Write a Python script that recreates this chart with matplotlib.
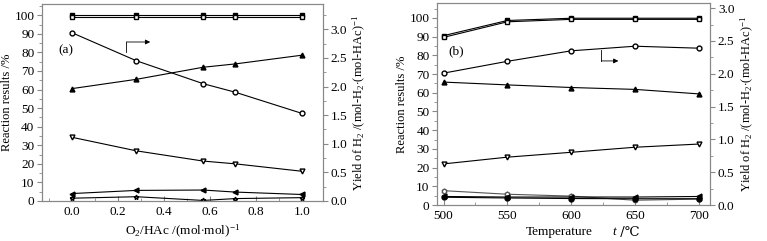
import matplotlib.pyplot as plt
from matplotlib.ticker import MultipleLocator

plt.rcParams['font.family'] = ['Liberation Serif', 'DejaVu Serif']
plt.rcParams['font.size'] = 9.5
plt.rcParams['mathtext.fontset'] = 'custom'
plt.rcParams['mathtext.rm'] = 'Liberation Serif'
plt.rcParams['mathtext.it'] = 'Liberation Serif:italic'

# (a) O2/HAc ratio
ratio = [0.0, 0.28, 0.57, 0.71, 1.0]
a_sq_fill = [100, 100, 100, 100, 100]
a_sq_open = [99.3, 99.3, 99.3, 99.3, 99.3]
a_h2_yield = [2.94, 2.45, 2.05, 1.90, 1.53]
a_tri_up = [60.5, 65.5, 72.0, 73.8, 78.5]
a_tri_down = [34.3, 27.0, 21.5, 20.0, 16.0]
a_tri_left = [4.0, 5.7, 5.9, 4.8, 3.5]
a_star = [1.5, 2.3, 0.3, 1.3, 1.8]

# (b) temperature
temp = [500, 550, 600, 650, 700]
b_sq_fill = [90.5, 98.6, 99.8, 99.8, 99.8]
b_sq_open = [89.6, 97.9, 99.2, 99.2, 99.2]
b_h2_yield = [2.01, 2.19, 2.35, 2.42, 2.39]
b_tri_up = [65.7, 64.2, 62.8, 61.8, 59.4]
b_tri_down = [22.0, 25.6, 28.2, 30.9, 32.6]
b_hex = [7.7, 5.8, 4.8, 2.6, 3.2]
b_tri_left = [4.6, 4.3, 4.3, 4.3, 4.6]
b_dot = [4.2, 3.8, 3.5, 3.4, 3.4]

fig = plt.figure(figsize=(7.67, 2.41), dpi=100)
ax1 = fig.add_axes([0.0548, 0.166, 0.366, 0.817])
ax2 = fig.add_axes([0.570, 0.149, 0.356, 0.839])

kw = dict(color='black', lw=0.8, ms=3.5)
gray = '#888888'


def style(ax, axr):
    for a in (ax, axr):
        for s in a.spines.values():
            s.set_color(gray)
            s.set_linewidth(0.8)
    ax.tick_params(axis='y', which='both', direction='out', color=gray, pad=2)
    ax.tick_params(axis='x', which='both', direction='in', color=gray)
    axr.tick_params(axis='y', which='both', direction='out', color=gray, pad=2)
    ax.tick_params(which='major', length=3.5)
    ax.tick_params(which='minor', length=2)
    axr.tick_params(which='major', length=3.5)
    axr.tick_params(which='minor', length=2)
    ax.yaxis.set_major_locator(MultipleLocator(10))
    ax.yaxis.set_minor_locator(MultipleLocator(5))
    axr.yaxis.set_major_locator(MultipleLocator(0.5))
    axr.yaxis.set_minor_locator(MultipleLocator(0.25))
    axr.yaxis.set_major_formatter(plt.FormatStrFormatter('%.1f'))
    ax.set_ylabel('Reaction results /%', labelpad=1, fontsize=9)
    axr.set_ylabel(r'Yield of H$_2$ /(mol-H$_2$$\cdot$(mol-HAc)$^{-1}$',
                   labelpad=3, fontsize=9)


# panel (a)
ax1r = ax1.twinx()
ax1.plot(ratio, a_sq_fill, marker='s', mfc='black', **kw)
ax1.plot(ratio, a_sq_open, marker='s', mfc='white', **kw)
ax1.plot(ratio, a_tri_up, marker='^', mfc='black', **kw)
ax1.plot(ratio, a_tri_down, marker='v', mfc='white', **kw)
ax1.plot(ratio, a_tri_left, marker='<', mfc='black', **kw)
ax1.plot(ratio, a_star, marker='*', mfc='white', **kw)
ax1r.plot(ratio, a_h2_yield, marker='o', mfc='white', **kw)
ax1.set_xlim(-0.13, 1.09)
ax1.set_ylim(0, 106)
ax1r.set_ylim(0, 3.44)
ax1.xaxis.set_major_locator(MultipleLocator(0.2))
ax1.xaxis.set_minor_locator(MultipleLocator(0.1))
ax1.xaxis.set_major_formatter(plt.FormatStrFormatter('%.1f'))
ax1.set_xlabel(r'O$_2$/HAc /(mol$\cdot$mol)$^{-1}$', labelpad=4)
style(ax1, ax1r)
ax1.text(-0.06, 81, '(a)', ha='left', va='center')
ax1.annotate('', xy=(0.34, 85.6), xytext=(0.236, 85.6),
             arrowprops=dict(arrowstyle='-|>', color='black', lw=0.6,
                             mutation_scale=7, shrinkA=0, shrinkB=0))
ax1.plot([0.236, 0.236], [80.3, 85.6], color='black', lw=0.6)

# panel (b)
ax2r = ax2.twinx()
ax2.plot(temp, b_sq_fill, marker='s', mfc='black', **kw)
ax2.plot(temp, b_sq_open, marker='s', mfc='white', **kw)
ax2.plot(temp, b_tri_up, marker='^', mfc='black', **kw)
ax2.plot(temp, b_tri_down, marker='v', mfc='white', **kw)
ax2.plot(temp, b_hex, marker='h', mfc='white', color='#555555', lw=0.8, ms=3.5)
ax2.plot(temp, b_tri_left, marker='<', mfc='black', **kw)
ax2.plot(temp, b_dot, marker='o', mfc='black', **kw)
ax2r.plot(temp, b_h2_yield, marker='o', mfc='white', **kw)
ax2.set_xlim(495, 709)
ax2.set_ylim(0, 108)
ax2r.set_ylim(0, 3.08)
ax2.xaxis.set_major_locator(MultipleLocator(50))
ax2.xaxis.set_minor_locator(MultipleLocator(25))
style(ax2, ax2r)
# x label: plain text pieces so the degree-Celsius sign renders
ly = -0.105
ax2.text(0.568, ly, 'Temperature', transform=ax2.transAxes,
         ha='right', va='top')
ax2.text(0.64, ly, 't', style='italic', transform=ax2.transAxes,
         ha='left', va='top')
ax2.text(0.655, ly, ' /\u2103', transform=ax2.transAxes,
         ha='left', va='top', family=['DejaVu Serif'])
ax2.text(504, 82.4, '(b)', ha='left', va='center')
ax2.plot([623.7, 623.7], [82.9, 77], color='black', lw=0.6)
ax2.annotate('', xy=(637, 77), xytext=(623.7, 77),
             arrowprops=dict(arrowstyle='-|>', color='black', lw=0.6,
                             mutation_scale=7, shrinkA=0, shrinkB=0))

fig.savefig('out.png', dpi=100)
